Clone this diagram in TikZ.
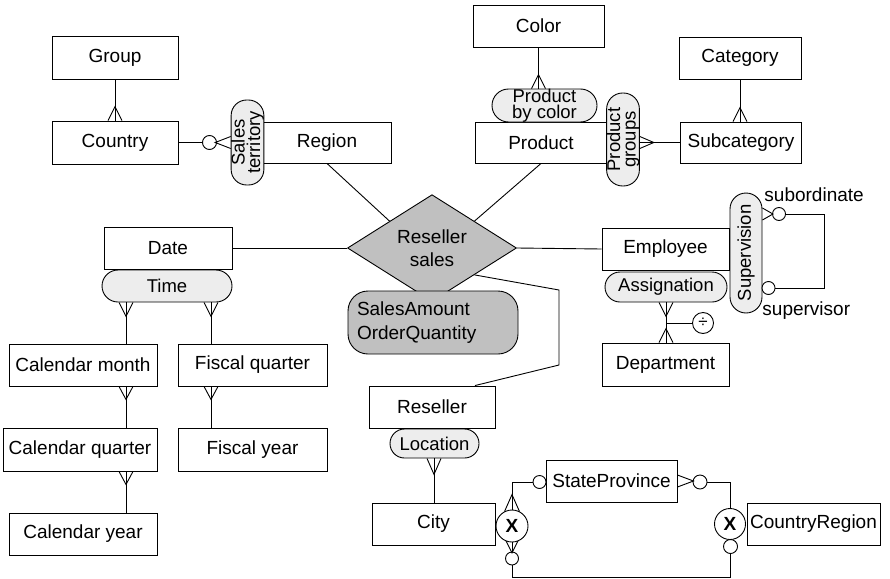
\documentclass[tikz,border=0pt]{standalone}
\usepackage{fontspec}
\setmainfont{Liberation Sans}
\usetikzlibrary{shapes.geometric,calc}
\definecolor{pillgray}{HTML}{EDEDED}
\definecolor{relgray}{HTML}{C0C0C0}
\newcommand\crowV[2]{\draw ($(#1)+(-7,0)$) -- ($(#1)+(0,#2)$) -- ($(#1)+(7,0)$);}
\newcommand\crowH[2]{\draw ($(#1)+(0,-6)$) -- ($(#1)+(#2,0)$) -- ($(#1)+(0,6)$);}
\begin{document}
\begin{tikzpicture}[x=1pt,y=-1pt,line width=0.9pt,
  ent/.style={draw,fill=white,inner sep=0pt,font=\fontsize{19}{21}\selectfont},
  pill/.style={draw,fill=pillgray,inner sep=0pt,align=center,font=\fontsize{18.5}{15.5}\selectfont},
  circ/.style={draw,fill=white,circle,inner sep=0pt},
  lbl/.style={inner sep=0pt,font=\fontsize{19}{21}\selectfont}]
\useasboundingbox (0,0) rectangle (890,578);
% column helpers
\coordinate (colA) at (126,0);
\coordinate (colB) at (211,0);
\coordinate (colC) at (666,0);
\coordinate (colD) at (434,0);
\coordinate (bot) at (0,577);
\coordinate (rb1) at (559,290);
\coordinate (rb2) at (559,365);
\coordinate (sv2) at (824,288);
% entities
\node[ent,minimum width=126pt,minimum height=43pt] (group) at (115,57.5) {Group};
\node[ent,minimum width=126pt,minimum height=43pt] (country) at (115,142.5) {Country};
\node[ent,minimum width=128pt,minimum height=41pt] (region) at (327,142.5) {Region};
\node[ent,minimum width=131pt,minimum height=42pt] (color) at (538.5,26) {Color};
\node[ent,minimum width=132pt,minimum height=41pt] (product) at (541,142.5) {Product};
\node[ent,minimum width=122pt,minimum height=42pt] (category) at (740,58) {Category};
\node[ent,minimum width=121pt,minimum height=41pt] (subcat) at (741,142.5) {Subcategory};
\node[ent,minimum width=128pt,minimum height=42pt] (date) at (168,248) {Date};
\node[ent,minimum width=127pt,minimum height=42pt] (employee) at (665.5,249) {Employee};
\node[ent,minimum width=127pt,minimum height=43pt] (dept) at (665.5,364.5) {Department};
\node[ent,minimum width=148pt,minimum height=42pt] (cmonth) at (83,365) {Calendar month};
\node[ent,minimum width=149pt,minimum height=42pt] (fquarter) at (252.5,365) {Fiscal quarter};
\node[ent,minimum width=154pt,minimum height=43pt] (cquarter) at (80,449.5) {Calendar quarter};
\node[ent,minimum width=149pt,minimum height=43pt] (fyear) at (252.5,449.5) {Fiscal year};
\node[ent,minimum width=148pt,minimum height=42pt] (cyear) at (83,534) {Calendar year};
\node[ent,minimum width=126pt,minimum height=42pt] (reseller) at (432,407) {Reseller};
\node[ent,minimum width=123pt,minimum height=42pt] (city) at (433.5,524) {City};
\node[ent,minimum width=131pt,minimum height=42pt] (state) at (611.5,481) {StateProvince};
\node[ent,minimum width=133pt,minimum height=42pt] (cregion) at (813.5,524) {CountryRegion};
% relationship
\node[diamond,draw,fill=relgray,minimum width=169pt,minimum height=84pt,inner sep=0pt,align=center,
  font=\fontsize{19}{23}\selectfont] (rs) at (432,248) {Reseller\\sales};
\node[draw,fill=relgray,rounded corners=20pt,minimum width=170pt,minimum height=63pt,text width=152pt,
  inner xsep=9pt,inner ysep=0pt,align=left,font=\fontsize{19}{24}\selectfont] (meas) at (433,322.5) {SalesAmount\\OrderQuantity};
% pills
\node[pill,rotate=90,rounded corners=15.5pt,minimum width=85pt,minimum height=31pt] (pst) at (247.5,142.5) {Sales\\territory};
\node[pill,rounded corners=16.5pt,minimum width=105pt,minimum height=33pt] (ppc) at (544.5,105.5) {Product\\by color};
\node[pill,rotate=90,rounded corners=16pt,minimum width=93pt,minimum height=32pt] (ppg) at (623,139.5) {Product\\groups};
\node[pill,rounded corners=16pt,minimum width=130pt,minimum height=32pt] (time) at (167,286) {Time};
\node[pill,rounded corners=15pt,minimum width=122pt,minimum height=30pt] (assign) at (666,287) {Assignation};
\node[pill,rotate=90,rounded corners=16pt,minimum width=120pt,minimum height=32pt] (superv) at (746,253) {Supervision};
\node[pill,rounded corners=14.5pt,minimum width=89pt,minimum height=29pt] (loc) at (434.5,443.5) {Location};
% circles
\node[circ,minimum size=14pt] (c1) at (209.5,142.5) {};
\node[circ,minimum size=13pt] (csub) at (779,214) {};
\node[circ,minimum size=13pt] (csup) at (768.5,288) {};
\node[circ,minimum size=13pt] (csl) at (539.5,482) {};
\node[circ,minimum size=14pt] (csr) at (700,482) {};
\node[circ,minimum size=32pt,font=\fontsize{19}{21}\selectfont\bfseries] (xl) at (512,526) {X};
\node[circ,minimum size=31pt,font=\fontsize{19}{21}\selectfont\bfseries] (xr) at (730,524) {X};
\node[circ,minimum size=13pt] (cbl) at (512,558.5) {};
\node[circ,minimum size=14pt] (cbr) at (730.5,546.5) {};
\node[circ,minimum size=21pt,font=\fontsize{17}{20}\selectfont] (div) at (703,323) {÷};
% labels
\node[lbl,anchor=west] (lsub) at (764,195) {subordinate};
\node[lbl,anchor=west] (lsup) at (762,311) {supervisor};
% connectors
\draw (group.south) -- (country.north);
\crowV{country.north}{-14}
\draw (country.east) -- (c1.west);
\crowH{pst.north}{-15.5}
\draw (region.south) -- (rs.north west);
\draw (product.south) -- (rs.north east);
\draw (date.east) -- (rs.west);
\draw (rs.east) -- (employee.west);
\draw (rs.south east) -- (rb1) -- (rb2) -- ([xshift=43pt]reseller.north);
\draw (color.south) -- (color.south |- ppc.north);
\crowV{color.south |- ppc.north}{-14}
\draw (category.south) -- (category.south |- subcat.north);
\crowV{category.south |- subcat.north}{-14}
\draw (subcat.west) -- (subcat.west -| ppg.south);
\crowH{subcat.west -| ppg.south}{14}
\crowH{csub -| superv.south}{10.5}
\draw (csub.east) -| (sv2) -- (csup.east);
\draw (time.south -| colA) -- (cmonth.north -| colA);
\crowV{time.south -| colA}{14}
\draw (cmonth.south -| colA) -- (cquarter.north -| colA);
\crowV{cmonth.south -| colA}{13}
\draw (cquarter.south -| colA) -- (cyear.north -| colA);
\crowV{cquarter.south -| colA}{13}
\draw (time.south -| colB) -- (fquarter.north -| colB);
\crowV{time.south -| colB}{14}
\draw (fquarter.south -| colB) -- (fyear.north -| colB);
\crowV{fquarter.south -| colB}{13}
\draw (assign.south -| colC) -- (dept.north -| colC);
\crowV{assign.south -| colC}{14}
\crowV{dept.north -| colC}{-14}
\draw (colC |- div) -- (div.west);
\draw (loc.south -| colD) -- (city.north -| colD);
\crowV{loc.south -| colD}{16}
\draw (csl.west) -| (xl.north);
\draw ($(xl.north)+(-7.5,2)$) -- ($(xl.north)+(0,-15)$) -- ($(xl.north)+(7.5,2)$);
\draw (xl.south) -- (cbl.north);
\draw ($(xl.south)+(-6,-1.5)$) -- ($(xl.south)+(0,10.5)$) -- ($(xl.south)+(6,-1.5)$);
\draw (cbl.south) -- (cbl.south |- bot) -| (cbr.south);
\crowH{state.east}{16}
\draw (csr.east) -| (xr.north);
\end{tikzpicture}
\end{document}
